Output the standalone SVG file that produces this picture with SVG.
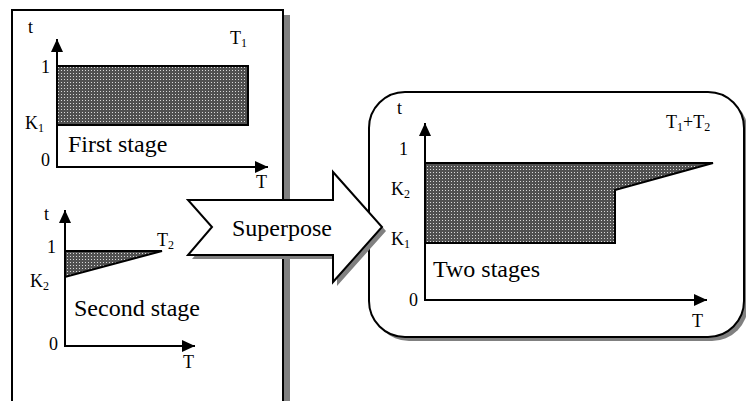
<svg xmlns="http://www.w3.org/2000/svg" width="746" height="401" viewBox="0 0 746 401">
<style>
text{font-family:'Liberation Serif','Times New Roman',serif;fill:#000}
.big{font-size:24px}
.lab{font-size:18px}
.sub{font-size:12px}
.ax{stroke:#000;stroke-width:2;fill:none;marker-end:url(#ah)}
.frame{fill:#fff;stroke:#000;stroke-width:2;stroke-linejoin:miter}
.shadow{fill:#808080}
.hatch{fill:url(#dots);stroke:#000;stroke-width:2;stroke-linejoin:miter}
</style>
<defs>
<marker id="ah" markerUnits="userSpaceOnUse" markerWidth="14" markerHeight="12" refX="13" refY="6" orient="auto">
<path d="M0,0 L13,6 L0,12 Z" fill="#000"/>
</marker>
<pattern id="dots" patternUnits="userSpaceOnUse" width="3" height="3">
<rect width="3" height="3" fill="#505050"/>
<rect x="1" y="1" width="1" height="1" fill="#d8d8d8"/>
</pattern>
</defs>

<g id="left-panel">
<rect class="shadow" x="283" y="15" width="7" height="400"/>
<rect class="frame" x="12" y="10" width="271" height="410"/>
</g>

<g id="first-stage">
<rect class="hatch" x="57" y="66" width="191" height="59"/>
<line class="ax" x1="57" y1="168" x2="57" y2="39"/>
<line class="ax" x1="56" y1="167" x2="268" y2="167"/>
<text class="lab" x="28" y="33">t</text>
<text class="lab" x="41" y="73">1</text>
<text class="lab" x="25" y="129">K<tspan class="sub" dy="3">1</tspan></text>
<text class="lab" x="41" y="166">0</text>
<text class="big" x="68" y="152">First stage</text>
<text class="lab" x="230" y="44">T<tspan class="sub" dy="3">1</tspan></text>
<text class="lab" x="256" y="188">T</text>
</g>

<g id="second-stage">
<polygon class="hatch" points="65,251 162,251 65,277"/>
<line class="ax" x1="65" y1="347" x2="65" y2="210"/>
<line class="ax" x1="64" y1="346" x2="195" y2="346"/>
<text class="lab" x="44" y="220">t</text>
<text class="lab" x="47" y="253">1</text>
<text class="lab" x="30" y="287">K<tspan class="sub" dy="3">2</tspan></text>
<text class="big" x="74" y="316">Second stage</text>
<text class="lab" x="49" y="350">0</text>
<text class="lab" x="183" y="368">T</text>
<text class="lab" x="157" y="246">T<tspan class="sub" dy="3">2</tspan></text>
</g>

<g id="two-stages">
<rect class="shadow" x="373" y="96" width="375" height="245" rx="36" ry="36"/>
<rect class="frame" x="369" y="92" width="375" height="245" rx="36" ry="36"/>
<polygon class="hatch" points="425,163 713,163 615,190 615,243 425,243"/>
<line class="ax" x1="425" y1="301" x2="425" y2="123"/>
<line class="ax" x1="424" y1="300" x2="707" y2="300"/>
<text class="lab" x="397" y="114">t</text>
<text class="lab" x="666" y="128">T<tspan class="sub" dy="3">1</tspan><tspan dy="-3">+T</tspan><tspan class="sub" dy="3">2</tspan></text>
<text class="lab" x="399" y="155">1</text>
<text class="lab" x="391" y="195">K<tspan class="sub" dy="3">2</tspan></text>
<text class="lab" x="391" y="245">K<tspan class="sub" dy="3">1</tspan></text>
<text class="big" x="433" y="277">Two stages</text>
<text class="lab" x="409" y="306">0</text>
<text class="lab" x="692" y="327">T</text>
</g>

<g id="connectors">
<g id="superpose">
<polygon class="shadow" points="192,204 337,204 337,176 386,231 337,286 337,259 192,259 216,231"/>
<polygon class="frame" points="188,200 333,200 333,172 382,227 333,282 333,255 188,255 212,227"/>
<text class="big" x="232" y="236">Superpose</text>
</g>
</g>
</svg>
